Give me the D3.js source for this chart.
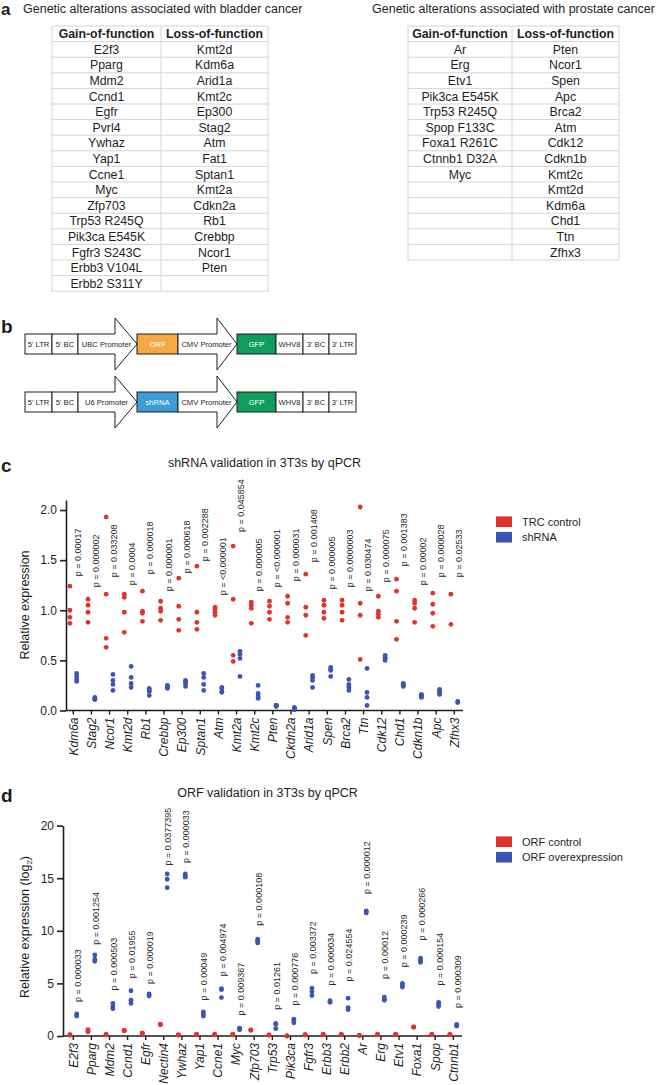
<!DOCTYPE html>
<html><head><meta charset="utf-8">
<script src="https://cdn.jsdelivr.net/npm/d3@7"></script>
<style>
body{margin:0;background:#fff}
svg{display:block;font-family:"Liberation Sans",Arial,Helvetica,sans-serif}
</style>
</head><body>
<svg id="fig" width="656" height="1085"></svg>
<script>
// ---------------- DATA ----------------
const bladderGain = ["E2f3","Pparg","Mdm2","Ccnd1","Egfr","Pvrl4","Ywhaz","Yap1","Ccne1","Myc","Zfp703","Trp53 R245Q","Pik3ca E545K","Fgfr3 S243C","Erbb3 V104L","Erbb2 S311Y"];
const bladderLoss = ["Kmt2d","Kdm6a","Arid1a","Kmt2c","Ep300","Stag2","Atm","Fat1","Sptan1","Kmt2a","Cdkn2a","Rb1","Crebbp","Ncor1","Pten"];
const prostateGain = ["Ar","Erg","Etv1","Pik3ca E545K","Trp53 R245Q","Spop F133C","Foxa1 R261C","Ctnnb1 D32A","Myc"];
const prostateLoss = ["Pten","Ncor1","Spen","Apc","Brca2","Atm","Cdk12","Cdkn1b","Kmt2c","Kmt2d","Kdm6a","Chd1","Ttn","Zfhx3"];
const tableHeaders = ["Gain-of-function","Loss-of-function"];

const constructORF = ["5' LTR","5' BC","UBC Promoter","ORF","CMV Promoter","GFP","WHV8","3' BC","3' LTR"];
const constructSH  = ["5' LTR","5' BC","U6 Promoter","shRNA","CMV Promoter","GFP","WHV8","3' BC","3' LTR"];

const shGenes = ["Kdm6a","Stag2","Ncor1","Kmt2d","Rb1","Crebbp","Ep300","Sptan1","Atm","Kmt2a","Kmt2c","Pten","Ckdn2a","Arid1a","Spen","Brca2","Ttn","Cdk12","Chd1","Cdkn1b","Apc","Zfhx3"];
const shControl = [
 [1.24,1.00,0.93,0.87],[1.11,1.05,0.98,0.88],[1.93,1.16,0.72,0.63],[1.16,1.13,0.98,0.78],
 [1.19,0.99,0.97,0.89],[1.09,1.02,0.99,0.90],[1.32,1.04,0.91,0.80],[1.44,0.98,0.88,0.81],
 [1.03,1.01,0.98,0.95],[1.64,1.11,0.55,0.49],[1.08,1.05,1.02,0.87],[1.09,1.04,0.98,0.91],
 [1.14,1.07,0.93,0.88],[1.36,1.03,0.95,0.75],[1.10,1.05,0.98,0.92],[1.10,1.05,0.98,0.90],
 [2.03,1.07,0.95,0.51],[1.14,0.99,0.96,0.93],[1.31,1.19,0.89,0.71],[1.10,1.07,1.02,0.88],
 [1.17,1.06,0.97,0.84],[1.16,0.86]];
const shKnockdown = [
 [0.37,0.34,0.31,0.29],[0.13,0.12,0.11,0.11],[0.36,0.30,0.26,0.20],[0.44,0.33,0.27,0.23],
 [0.22,0.20,0.19,0.15],[0.25,0.24,0.23,0.22],[0.30,0.29,0.27,0.24],[0.37,0.33,0.26,0.20],
 [0.23,0.22,0.19,0.18],[0.59,0.56,0.52,0.34],[0.25,0.17,0.14,0.12],[0.05,0.05,0.04,0.05],
 [0.03,0.02,0.01,0.01],[0.35,0.33,0.30,0.23],[0.43,0.41,0.40,0.34],[0.31,0.26,0.23,0.20],
 [0.42,0.18,0.13,0.05],[0.55,0.53,0.52,0.50],[0.27,0.26,0.25,0.24],[0.16,0.15,0.14,0.13],
 [0.21,0.20,0.18,0.16],[0.09,0.08]];
const shP = ["0.00017","0.000002","0.033208","0.0004","0.000018","0.000001","0.000618","0.002288","<0.000001","0.045854","0.000005","<0.000001","0.000031","0.001408","0.000005","0.0000003","0.030474","0.000075","0.001383","0.00002","0.000028","0.02533"];
const shPLevel = [1.34,1.23,1.33,1.25,1.36,1.19,1.37,1.49,1.15,1.78,1.19,1.23,1.29,1.48,1.21,1.23,1.19,1.28,1.44,1.25,1.33,1.33];
const shTicks = [0,0.5,1.0,1.5,2.0];

const orfGenes = ["E2f3","Pparg","Mdm2","Ccnd1","Egfr","Nectin4","Ywhaz","Yap1","Ccne1","Myc","Zfp703","Trp53","Pik3ca","Fgfr3","Erbb3","Erbb2","Ar","Erg","Etv1","Foxa1","Spop","Ctnnb1"];
const orfControl = [
 [0.10,0.08,0.12],[0.60,0.45,0.40],[0.15,0.12,0.10],[0.54,0.52,0.50],[0.28,0.25,0.27],[1.10,1.08,1.10],
 [0.10,0.08,0.10],[0.15,0.12,0.14],[0.15,0.13,0.14],[0.15,0.12,0.13],[0.57,0.55,0.56],[0.10,0.08,0.09],
 [0.02,0.00,0.01],[0.12,0.10,0.11],[0.15,0.13,0.14],[0.15,0.13,0.14],[0.05,0.04,0.05],[0.15,0.13,0.14],
 [0.15,0.13,0.14],[0.86,0.84,0.85],[0.15,0.13,0.14],[0.15,0.13,0.14]];
const orfOver = [
 [2.1,2.0,1.9],[7.7,7.3,7.1],[3.1,2.8,2.6],[4.3,3.4,3.1],[4.0,3.9,3.8],[15.4,14.9,14.1],
 [15.4,15.2,15.1],[2.3,2.1,1.9],[4.5,4.4,3.65],[0.75,0.65,0.6],[9.2,9.0,8.85],[1.2,1.1,0.7],
 [1.6,1.45,1.25],[4.55,4.2,3.85],[3.35,3.25,3.2],[3.6,2.7,2.5],[11.9,11.8,11.7],[3.7,3.5,3.4],
 [5.0,4.8,4.65],[7.4,7.2,7.0],[3.2,3.0,2.8],[1.1,1.0,0.95]];
const orfP = ["0.000033","0.001254","0.000503","0.01955","0.000019","0.0377395","0.000033","0.00049","0.004974","0.009367","0.000108","0.01261","0.000776","0.003372","0.000034","0.024554","0.000012","0.00012","0.000239","0.000266","0.000154","0.000309"];
const orfPLevel = [3.23,8.67,4.32,5.48,4.94,16.2,16.45,3.37,5.67,1.94,10.49,2.5,2.89,5.9,4.79,5.19,13.5,5.43,6.54,9.07,4.79,2.66];
const orfTicks = [0,5,10,15,20];

// ---------------- STYLE ----------------
const INK = "#1e1e1e";
const RED = "#e0332c";
const BLUE = "#3c54b3";
const svg = d3.select("#fig");
svg.append("rect").attr("width",656).attr("height",1085).attr("fill","#fff");

function panelLetter(t, x, y, size){
  svg.append("text").attr("x",x).attr("y",y).text(t)
    .attr("font-size",size||19).attr("font-weight","bold").attr("fill",INK);
}

// ---------------- PANEL A ----------------
panelLetter("a", 1, 15, 17);
svg.append("text").attr("x",23).attr("y",13).attr("font-size",12.5).attr("fill",INK)
  .text("Genetic alterations associated with bladder cancer");
svg.append("text").attr("x",372).attr("y",13).attr("font-size",12.5).attr("fill",INK)
  .text("Genetic alterations associated with prostate cancer");

function drawTable(x0, xm, x1, top, gain, loss){
  const n = Math.max(gain.length, loss.length);
  const rows = [tableHeaders].concat(d3.range(n).map(i => [gain[i]||"", loss[i]||""]));
  const rh = 15.6;
  const yS = d3.scaleLinear().domain([0, rows.length]).range([top, top + rows.length*rh]);
  const g = svg.append("g");
  g.selectAll("line.h").data(d3.range(rows.length+1)).join("line")
    .attr("x1",x0).attr("x2",x1).attr("y1",d=>yS(d)).attr("y2",d=>yS(d))
    .attr("stroke","#cfcfcf").attr("stroke-width",0.9);
  g.selectAll("line.v").data([x0,xm,x1]).join("line")
    .attr("x1",d=>d).attr("x2",d=>d).attr("y1",yS(0)).attr("y2",yS(rows.length))
    .attr("stroke","#cfcfcf").attr("stroke-width",0.9);
  rows.forEach((r,i)=>{
    [[ (x0+xm)/2, r[0]], [(xm+x1)/2, r[1]]].forEach(([cx,t])=>{
      g.append("text").attr("x",cx).attr("y",yS(i)+rh/2).attr("dy","0.36em")
        .attr("text-anchor","middle").attr("font-size",12.3)
        .attr("font-weight", i===0 ? "bold" : "normal").attr("fill",INK).text(t);
    });
  });
}
drawTable(52, 161, 268, 26, bladderGain, bladderLoss);
drawTable(408, 512, 619, 26, prostateGain, prostateLoss);

// ---------------- PANEL B ----------------
panelLetter("b", 1, 333);
const segEdges = [25,52,78,137,178,237,276,303,329,356];
const arrowBack = {2:115, 4:217};
function segFill(label){
  if(label==="ORF") return "#f6a843";
  if(label==="shRNA") return "#3d9bd6";
  if(label==="GFP") return "#0f9d5b";
  return "#fff";
}
function drawConstruct(labels, cy){
  const top = cy-10, bot = cy+10, head = 16;
  const g = svg.append("g");
  labels.forEach((lab,i)=>{
    const xa = segEdges[i], xb = segEdges[i+1];
    if(arrowBack[i] !== undefined){
      const xk = arrowBack[i];
      const pts = [[xa,top],[xk,top],[xk,top-head],[xb,cy],[xk,bot+head],[xk,bot],[xa,bot]];
      g.append("path").attr("d", d3.line()(pts)+"Z").attr("fill","#fff")
        .attr("stroke",INK).attr("stroke-width",1);
    } else {
      g.append("rect").attr("x",xa).attr("y",top).attr("width",xb-xa).attr("height",bot-top)
        .attr("fill",segFill(lab)).attr("stroke",INK).attr("stroke-width",1);
    }
    g.append("text").attr("x",(xa+xb)/2 - (arrowBack[i]!==undefined?1:0)).attr("y",cy).attr("dy","0.36em")
      .attr("text-anchor","middle").attr("font-size",7.6)
      .attr("fill", segFill(lab)==="#fff" ? INK : "#fff").text(lab);
  });
}
drawConstruct(constructORF, 344);
drawConstruct(constructSH, 402);

// ---------------- SCATTER PANELS ----------------
function scatterPanel(o){
  const g = svg.append("g");
  const x = d3.scaleBand().domain(o.genes).range(o.xRange).padding(0);
  const cx = d => x(d) + x.bandwidth()/2;
  const y = d3.scaleLinear().domain(o.yDomain).range(o.yRange);
  const y0 = o.yRange[0];

  g.append("text").attr("x",o.titleX).attr("y",o.titleY).attr("text-anchor","middle")
    .attr("font-size",12.5).attr("fill",INK).text(o.title);

  const ya = g.append("g").attr("transform",`translate(${o.axisX},0)`)
    .call(d3.axisLeft(y).tickValues(o.ticks).tickFormat(o.fmt).tickSize(6).tickSizeOuter(0).tickPadding(3));
  ya.selectAll("text").attr("font-size",12).attr("fill",INK).attr("font-family",null);
  ya.selectAll("line,path").attr("stroke",INK).attr("stroke-width",1.6);

  const yl = g.append("text")
    .attr("transform",`translate(29,${o.ylabelY}) rotate(-90)`)
    .attr("text-anchor","middle").attr("font-size",12.5).attr("fill",INK);
  yl.append("tspan").text(o.ylabel);
  if(o.ylabelSub){
    yl.append("tspan").attr("font-size",8).attr("dy",3).text(o.ylabelSub);
    yl.append("tspan").attr("dy",-3).text(")");
  }

  const xa = g.append("g").attr("transform",`translate(0,${y0})`)
    .call(d3.axisBottom(x).tickSize(4).tickSizeOuter(0).tickPadding(3));
  xa.select(".domain").remove();
  xa.selectAll("line").attr("stroke",INK).attr("stroke-width",1.4);
  xa.selectAll("text").attr("font-size",12).attr("font-style","italic").attr("fill",INK)
    .attr("font-family",null)
    .attr("transform","rotate(-90)").attr("x",-7).attr("y",0).attr("dy","0.36em")
    .attr("text-anchor","end");
  g.append("line").attr("x1",o.axisX).attr("x2",o.axisEnd).attr("y1",y0).attr("y2",y0)
    .attr("stroke",INK).attr("stroke-width",1.6);

  g.selectAll("text.p").data(o.genes).join("text").attr("class","p")
    .attr("transform",(d,i)=>`translate(${cx(d)+7.5},${y(o.pLevel[i])}) rotate(-90)`)
    .attr("font-size",9).attr("fill","#2a2a2a")
    .text((d,i)=>"p = "+o.p[i]);

  const pts = [];
  o.genes.forEach((gname,i)=>{
    o.ctrl[i].forEach(v=>pts.push({x:cx(gname)-o.off, v, c:RED}));
    o.trt[i].forEach(v=>pts.push({x:cx(gname)+o.off, v, c:BLUE}));
  });
  g.selectAll("circle").data(pts).join("circle")
    .attr("cx",d=>d.x).attr("cy",d=>y(d.v)).attr("r",2.4).attr("fill",d=>d.c);

  o.legend.forEach((t,i)=>{
    const ly = o.legendY + i*15.5;
    g.append("rect").attr("x",496).attr("y",ly-5.3).attr("width",16).attr("height",10.6)
      .attr("fill", i===0?RED:BLUE);
    g.append("text").attr("x",522).attr("y",ly).attr("dy","0.36em").attr("font-size",11)
      .attr("fill",INK).text(t);
  });
}

panelLetter("c", 1, 472);
scatterPanel({
  genes: shGenes, ctrl: shControl, trt: shKnockdown, p: shP, pLevel: shPLevel,
  xRange:[64.2,463.4], yDomain:[0,2.1], yRange:[710.5,500], axisX:66, axisEnd:463,
  ticks: shTicks, fmt: d3.format(".1f"), off:3.4,
  title:"shRNA validation in 3T3s by qPCR", titleX:264.5, titleY:467,
  ylabel:"Relative expression", ylabelY:605,
  legend:["TRC control","shRNA"], legendY:521.7
});

panelLetter("d", 1, 802);
scatterPanel({
  genes: orfGenes, ctrl: orfControl, trt: orfOver, p: orfP, pLevel: orfPLevel,
  xRange:[64.25,462.35], yDomain:[0,20], yRange:[1036,825.6], axisX:63, axisEnd:462,
  ticks: orfTicks, fmt: d3.format("d"), off:3.4,
  title:"ORF validation in 3T3s by qPCR", titleX:267.5, titleY:797,
  ylabel:"Relative expression (log", ylabelSub:"2", ylabelY:927,
  legend:["ORF control","ORF overexpression"], legendY:841.7
});
</script>
</body></html>
